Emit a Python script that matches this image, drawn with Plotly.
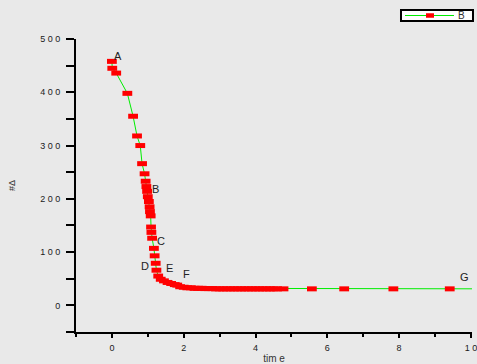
import plotly.graph_objects as go

# ---- data ----
time_vals = [0.00, 0.01, 0.12, 0.43, 0.59, 0.70, 0.79, 0.84, 0.91, 0.94, 0.96, 0.98,
             1.00, 1.03, 1.05, 1.06, 1.08, 1.09, 1.10, 1.12, 1.17, 1.19, 1.22, 1.24,
             1.29, 1.36, 1.45, 1.55, 1.65, 1.75, 1.82, 1.90, 2.00, 2.10, 2.20, 2.30,
             2.40, 2.50, 2.60, 2.70, 2.80, 2.90, 3.00, 3.10, 3.20, 3.30, 3.40, 3.50,
             3.60, 3.70, 3.80, 3.90, 4.00, 4.10, 4.20, 4.30, 4.40, 4.50, 4.60, 4.78,
             5.57, 6.47, 7.84, 9.41, 10.6]
b_vals = [458, 445, 436, 398, 355, 318, 300, 266, 247, 233, 223, 214,
          204, 195, 185, 176, 168, 147, 137, 126, 107, 93, 79, 66,
          55, 49, 46, 43, 41, 39, 38, 35, 34, 33, 33, 32,
          32, 32, 31.5, 31.5, 31.5, 31, 31, 31, 31, 31, 31, 31,
          31, 31, 31, 31, 31, 31, 31, 31, 31, 31, 31, 31,
          31, 31, 31, 31, 31]
series_name = "B"

point_labels = ["A", "B", "C", "D", "E", "F", "G"]
label_x = [0.18, 1.22, 1.37, 0.91, 1.61, 2.08, 9.83]
label_y = [468, 219, 121, 74, 71, 58, 53]

x_tickvals = [0, 2, 4, 6, 8, 10]
x_ticktext = ["0", "2", "4", "6", "8", "1 0"]
y_tickvals = [0, 100, 200, 300, 400, 500]
y_ticktext = ["0", "1 0 0", "2 0 0", "3 0 0", "4 0 0", "5 0 0"]

FONT = "Liberation Sans, Arial, sans-serif"
BG = "#e9e9e9"
LINE_C = "#00ee00"
MARK_C = "#ff0000"

fig = go.Figure()
fig.add_trace(go.Scatter(
    x=time_vals, y=b_vals, name=series_name, mode="lines+markers",
    line=dict(color=LINE_C, width=1),
    marker=dict(symbol="line-ew", size=7, color=MARK_C,
                line=dict(color=MARK_C, width=5)),
    showlegend=False,
))

for t, lx, ly in zip(point_labels, label_x, label_y):
    fig.add_annotation(x=lx, y=ly, text=t, showarrow=False,
                       xanchor="center", yanchor="middle",
                       font=dict(family=FONT, size=11, color="#222"))

# compact legend box (top right)
fig.add_shape(type="rect", xref="paper", yref="paper",
              x0=0.8207, x1=1.0025, y0=1.0614, y1=1.099,
              fillcolor="white", line=dict(color="black", width=2), layer="above")
fig.add_shape(type="line", xref="paper", yref="paper",
              x0=0.8308, x1=0.9545, y0=1.0802, y1=1.0802,
              line=dict(color=LINE_C, width=1), layer="above")
fig.add_shape(type="rect", xref="paper", yref="paper",
              x0=0.8838, x1=0.9040, y0=1.0725, y1=1.0879,
              fillcolor=MARK_C, line=dict(width=0), layer="above")
fig.add_annotation(xref="paper", yref="paper", x=0.9747, y=1.0802,
                   xanchor="center", yanchor="middle",
                   text=series_name, showarrow=False,
                   font=dict(family=FONT, size=10, color="#333"))

fig.update_layout(
    width=477, height=364,
    margin=dict(l=76, r=5, t=39, b=32, autoexpand=False),
    paper_bgcolor=BG, plot_bgcolor=BG,
    font=dict(family=FONT, size=9, color="#333"),
    showlegend=False,
)
fig.update_xaxes(
    range=[-1, 10.03], showgrid=False, zeroline=False, automargin=False,
    showline=True, linecolor="black", linewidth=2,
    ticks="outside", ticklen=4, tickwidth=2, tickcolor="black",
    tickvals=x_tickvals, ticktext=x_ticktext, ticklabelstandoff=2,
    ticklabeloverflow="allow",
    tickfont=dict(family=FONT, size=9, color="#1a1a1a"),
    minor=dict(ticks="outside", ticklen=3, tickwidth=2, tickcolor="black", dtick=1, tick0=0),
    title=dict(text="tim e", font=dict(family=FONT, size=10, color="#333"), standoff=9),
)
fig.update_yaxes(
    range=[-50, 500], showgrid=False, zeroline=False, automargin=False,
    showline=True, linecolor="black", linewidth=2,
    ticks="outside", ticklen=8, tickwidth=1.5, tickcolor="black",
    tickvals=y_tickvals, ticktext=y_ticktext, ticklabelstandoff=4,
    tickfont=dict(family=FONT, size=9, color="#1a1a1a"),
    minor=dict(ticks="outside", ticklen=8, tickwidth=1.5, tickcolor="black", dtick=50, tick0=0),
    title=dict(text="#Δ", font=dict(family=FONT, size=9, color="#333"), standoff=23),
)

fig.write_html("out.html")
